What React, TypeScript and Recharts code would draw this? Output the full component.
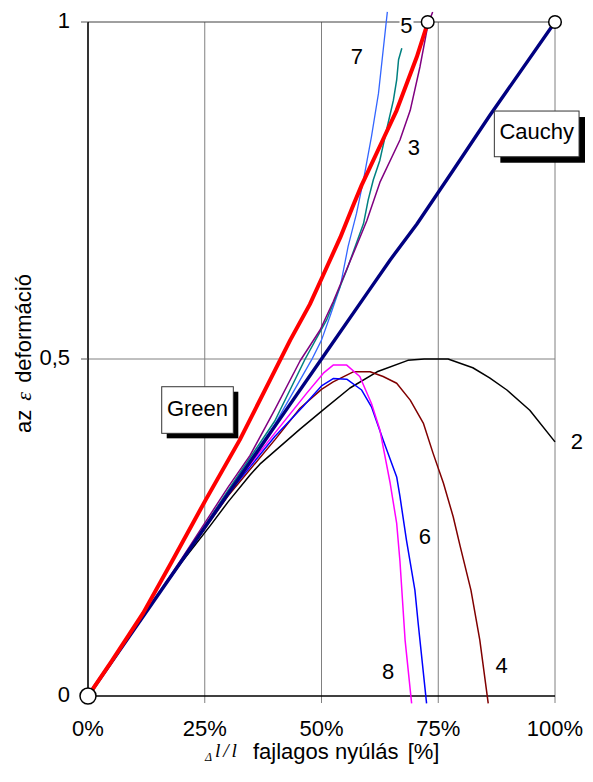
import React from 'react';
import { LineChart, Line, XAxis, YAxis, ReferenceLine, ReferenceDot } from 'recharts';

// ---- tick labels ----
const xTicks = [0, 0.25, 0.5, 0.75, 1];
const yTicks = [0, 0.5, 1];
const yTickLabels: Record<string, string> = { '0': '0', '0.5': '0,5', '1': '1' };

// ---- series (x = Δl/l, y = ε) ----
const greenX = [0, 0.05, 0.118, 0.18, 0.252, 0.325, 0.39, 0.433, 0.475, 0.502, 0.54, 0.568, 0.586, 0.632, 0.661, 0.704, 0.728];
const greenY = [0, 0.051, 0.123, 0.2, 0.291, 0.38, 0.469, 0.528, 0.581, 0.622, 0.68, 0.728, 0.758, 0.826, 0.869, 0.948, 1.0];

const cauchyX = [0, 0.2, 0.4, 0.5, 0.6, 0.647, 0.704, 0.782, 0.861, 1.0];
const cauchyY = [0, 0.2, 0.4, 0.5, 0.6, 0.647, 0.7, 0.78, 0.862, 1.0];

const c2X = [0, 0.05, 0.1, 0.15, 0.2, 0.261, 0.3, 0.347, 0.368, 0.454, 0.501, 0.561, 0.619, 0.685, 0.72, 0.771, 0.824, 0.86, 0.897, 0.946, 1.0];
const c2Y = [0, 0.05, 0.1, 0.15, 0.198, 0.252, 0.288, 0.328, 0.344, 0.396, 0.423, 0.457, 0.481, 0.498, 0.5, 0.5, 0.487, 0.472, 0.454, 0.424, 0.377];

const c3X = [0, 0.1, 0.2, 0.3, 0.347, 0.4, 0.454, 0.497, 0.525, 0.575, 0.597, 0.625, 0.668, 0.69, 0.711, 0.728, 0.738];
const c3Y = [0, 0.1, 0.203, 0.31, 0.357, 0.425, 0.497, 0.543, 0.585, 0.668, 0.705, 0.762, 0.825, 0.869, 0.934, 0.996, 1.015];

const c4X = [0, 0.1, 0.2, 0.3, 0.4, 0.454, 0.5, 0.525, 0.568, 0.604, 0.632, 0.661, 0.69, 0.718, 0.739, 0.761, 0.782, 0.797, 0.82, 0.839, 0.857];
const c4Y = [0, 0.1, 0.2, 0.297, 0.38, 0.427, 0.455, 0.466, 0.481, 0.481, 0.474, 0.464, 0.439, 0.405, 0.36, 0.316, 0.266, 0.222, 0.157, 0.083, -0.011];

const c5X = [0, 0.1, 0.2, 0.3, 0.4, 0.465, 0.511, 0.554, 0.59, 0.6, 0.611, 0.625, 0.641, 0.654, 0.661, 0.665, 0.672];
const c5Y = [0, 0.1, 0.2, 0.305, 0.408, 0.5, 0.558, 0.632, 0.701, 0.736, 0.766, 0.795, 0.845, 0.884, 0.914, 0.944, 0.961];

const c6X = [0, 0.1, 0.2, 0.3, 0.4, 0.461, 0.5, 0.525, 0.554, 0.586, 0.607, 0.632, 0.661, 0.668, 0.682, 0.7, 0.707, 0.725];
const c6Y = [0, 0.1, 0.2, 0.3, 0.385, 0.43, 0.46, 0.471, 0.47, 0.454, 0.429, 0.38, 0.325, 0.296, 0.231, 0.157, 0.108, -0.011];

const c7X = [0, 0.1, 0.2, 0.3, 0.4, 0.479, 0.5, 0.518, 0.54, 0.557, 0.575, 0.59, 0.607, 0.622, 0.632, 0.641];
const c7Y = [0, 0.1, 0.2, 0.303, 0.403, 0.499, 0.528, 0.563, 0.607, 0.667, 0.716, 0.766, 0.83, 0.894, 0.958, 1.015];

const c8X = [0, 0.1, 0.2, 0.3, 0.4, 0.468, 0.504, 0.525, 0.554, 0.582, 0.607, 0.625, 0.647, 0.661, 0.668, 0.679, 0.693];
const c8Y = [0, 0.1, 0.2, 0.302, 0.39, 0.449, 0.479, 0.491, 0.491, 0.474, 0.434, 0.395, 0.316, 0.256, 0.2, 0.083, -0.011];

// ---- annotation labels ----
const curveLabels = ['5', '7', '3', '2', '6', '8', '4'];
const curveLabelX = [0.682, 0.576, 0.698, 1.047, 0.7216, 0.6424, 0.8859];
const curveLabelY = [0.996, 0.9496, 0.814, 0.378, 0.238, 0.0378, 0.0453];

const boxLabels = ['Green', 'Cauchy'];
const boxLabelX = [0.2345, 0.9608];
const boxLabelY = [0.4243, 0.834];

const endPointsX = [0, 0.7274, 1];
const endPointsY = [0, 1, 1];

type Pt = { x: number; y: number };
const pts = (xs: number[], ys: number[]): Pt[] => xs.map((x, i) => ({ x, y: ys[i] }));

const FONT = 'Arial, "Liberation Sans", sans-serif';
const SERIF = '"Liberation Serif", "Times New Roman", serif';

const series = [
  { name: '2', data: pts(c2X, c2Y), color: '#000000', w: 1.5 },
  { name: '4', data: pts(c4X, c4Y), color: '#800000', w: 1.5 },
  { name: '6', data: pts(c6X, c6Y), color: '#0000FF', w: 1.5 },
  { name: '8', data: pts(c8X, c8Y), color: '#FF00FF', w: 1.5 },
  { name: '7', data: pts(c7X, c7Y), color: '#3366FF', w: 1.3 },
  { name: '5', data: pts(c5X, c5Y), color: '#008080', w: 1.5 },
  { name: '3', data: pts(c3X, c3Y), color: '#800080', w: 1.5 },
  { name: 'Cauchy', data: pts(cauchyX, cauchyY), color: '#000080', w: 3.4 },
  { name: 'Green', data: pts(greenX, greenY), color: '#FF0000', w: 4 },
];

const textShape = (t: string, bg: boolean) => (p: any) => (
  <g>
    {bg ? <rect x={p.cx - 7} y={p.cy - 10} width={14} height={20} fill="#fff" /> : null}
    <text x={p.cx} y={p.cy + 8} textAnchor="middle" fontSize={22} fontFamily={FONT} fill="#000">
      {t}
    </text>
  </g>
);

const boxShape = (t: string, w: number, h: number, off: number) => (p: any) => (
  <g>
    <rect x={p.cx - w / 2 + off} y={p.cy - h / 2 + off} width={w} height={h} fill="#000" />
    <rect x={p.cx - w / 2} y={p.cy - h / 2} width={w} height={h} fill="#fff" stroke="#333" strokeWidth={1} />
    <text x={p.cx} y={p.cy + 5.5} textAnchor="middle" fontSize={22} fontFamily={FONT} fill="#000">
      {t}
    </text>
  </g>
);

const YTitle = (props: any) => {
  const vb = props.viewBox || { x: 0, y: 0, width: 80, height: 696 };
  const cx = vb.x + 23;
  const cy = vb.y + 345;
  return (
    <text transform={`translate(${cx},${cy}) rotate(-90)`} textAnchor="middle" fontSize={22} fontFamily={FONT} fill="#000" xmlSpace="preserve">
      <tspan>az </tspan>
      <tspan fontFamily={SERIF} fontStyle="italic" dx={3}>ε</tspan>
      <tspan dx={3}> deformáció</tspan>
    </text>
  );
};

const XTitle = (props: any) => {
  const vb = props.viewBox || { x: 80, y: 696, width: 467, height: 70 };
  const bx = vb.x;
  const by = vb.y + 55;
  return (
    <text fontSize={22} fontFamily={FONT} fill="#000">
      <tspan x={bx + 117} y={by + 2} fontFamily={SERIF} fontStyle="italic" fontSize={12}>Δ</tspan>
      <tspan x={bx + 127} y={by - 2.5} fontFamily={SERIF} fontStyle="italic" fontSize={19.5} textLength={22} lengthAdjust="spacing">l/l</tspan>
      <tspan x={bx + 165} y={by}>fajlagos nyúlás</tspan>
      <tspan x={bx + 319.7} y={by}>[%]</tspan>
    </text>
  );
};

export default function App() {
  return (
    <LineChart
      width={577}
      height={766}
      margin={{ top: 0.52, right: 30, bottom: 0, left: 0 }}
      style={{ fontFamily: FONT }}
    >
      <XAxis
        type="number"
        dataKey="x"
        domain={[0, 1]}
        ticks={xTicks}
        interval={0}
        tickFormatter={(v: number) => `${Math.round(v * 100)}%`}
        axisLine={false}
        tickLine={false}
        tickSize={0}
        tickMargin={16.5}
        height={69.91}
        tick={{ fontSize: 22, fill: '#000', fontFamily: FONT }}
        label={{ content: XTitle }}
      />
      <YAxis
        type="number"
        dataKey="y"
        domain={[-0.012, 1.02]}
        ticks={yTicks}
        interval={0}
        tickFormatter={(v: number) => yTickLabels[String(v)] ?? String(v)}
        axisLine={false}
        tickLine={{ stroke: '#555', strokeWidth: 1 }}
        tickSize={7}
        tickMargin={11}
        width={80}
        tick={{ fontSize: 22, fill: '#000', fontFamily: FONT, dy: -2 }}
        label={{ content: YTitle }}
      />

      {/* grid */}
      {[0.25, 0.5, 0.75, 1].map((gx) => (
        <ReferenceLine
          key={`vx${gx}`}
          segment={[{ x: gx, y: -0.0104 }, { x: gx, y: 1 }]}
          stroke="#808080"
          strokeWidth={1}
          zIndex={-100}
        />
      ))}
      <ReferenceLine segment={[{ x: 0, y: 0.5 }, { x: 1, y: 0.5 }]} stroke="#808080" strokeWidth={1} zIndex={-100} />
      <ReferenceLine segment={[{ x: 0, y: 1 }, { x: 1, y: 1 }]} stroke="#404040" strokeWidth={1} zIndex={-100} />
      <ReferenceLine segment={[{ x: 0, y: 0 }, { x: 1, y: 0 }]} stroke="#000" strokeWidth={1.3} zIndex={-100} />
      <ReferenceLine segment={[{ x: 0, y: -0.0104 }, { x: 0, y: 1 }]} stroke="#000" strokeWidth={1.6} zIndex={-100} />

      {series.map((s) => (
        <Line
          key={s.name}
          data={s.data}
          dataKey="y"
          type="linear"
          stroke={s.color}
          strokeWidth={s.w}
          dot={false}
          activeDot={false}
          isAnimationActive={false}
          strokeLinejoin="round"
        />
      ))}

      {endPointsX.map((px, i) => (
        <ReferenceDot
          key={`ep${i}`}
          x={px}
          y={endPointsY[i]}
          r={i === 0 ? 8 : 6.3}
          fill="#fff"
          stroke="#000"
          strokeWidth={1.5}
          ifOverflow="visible"
        />
      ))}

      {curveLabels.map((t, i) => (
        <ReferenceDot
          key={`cl${i}`}
          x={curveLabelX[i]}
          y={curveLabelY[i]}
          r={1}
          ifOverflow="visible"
          shape={textShape(t, t === '5')}
        />
      ))}

      <ReferenceDot x={boxLabelX[0]} y={boxLabelY[0]} r={1} ifOverflow="visible" shape={boxShape(boxLabels[0], 71.6, 46.6, 5)} />
      <ReferenceDot x={boxLabelX[1]} y={boxLabelY[1]} r={1} ifOverflow="visible" shape={boxShape(boxLabels[1], 84.7, 45.7, 6)} />
    </LineChart>
  );
}
